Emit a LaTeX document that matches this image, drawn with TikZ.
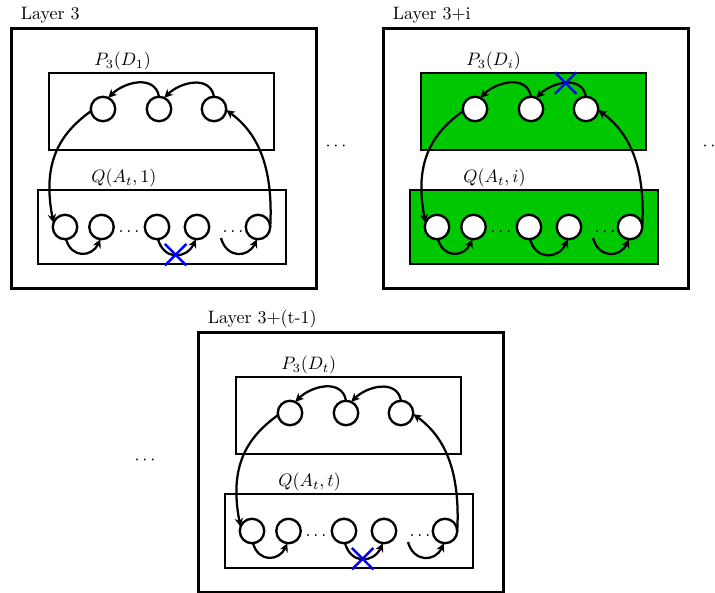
\documentclass[tikz,border=0pt]{standalone}
\usetikzlibrary{arrows.meta,shapes.misc}
\definecolor{boxgreen}{RGB}{0,200,0}
\tikzset{
  x=0.5556pt, y=0.5556pt,
  layerbox/.style={draw, line width=1.6pt},
  groupbox/.style={draw, line width=1.3pt},
  vtx/.style={circle, draw, fill=white, line width=1.3pt, minimum size=13.6pt, inner sep=0pt, outer sep=0pt},
  lbl/.style={anchor=west, inner sep=0pt},
  arc/.style={line width=1.25pt, -{Stealth[length=4.8pt,width=4.6pt]}},
  dotsnode/.style={anchor=base, inner sep=0pt},
  crossmk/.style={cross out, draw=blue, line width=1.3pt, minimum size=12pt, inner sep=0pt, outer sep=0pt}
}
\newcommand\mypanel[7]{%
\begin{scope}[shift={(#2,-#3)}]
  \node[layerbox, minimum width=305*0.5556pt, minimum height=260*0.5556pt, inner sep=0pt, anchor=north west] (#1box) at (10,-27) {};
  \node[lbl] (#1lay) at (20.5,-15) {#5};
  \node[groupbox, fill=#4, minimum width=225*0.5556pt, minimum height=77*0.5556pt, inner sep=0pt, anchor=north west] (#1pbox) at (48,-72) {};
  \node[lbl] (#1plab) at (94,-61) {#6};
  \node[groupbox, fill=#4, minimum width=248*0.5556pt, minimum height=74*0.5556pt, inner sep=0pt, anchor=north west] (#1qbox) at (37,-189) {};
  \node[lbl] (#1qlab) at (91,-178) {#7};
  \node[vtx] (#1p1) at (103,-109) {};
  \node[vtx] (#1p2) at (159,-109) {};
  \node[vtx] (#1p3) at (214,-109) {};
  \node[vtx] (#1q1) at (65,-227) {};
  \node[vtx] (#1q2) at (101.5,-227) {};
  \node[vtx] (#1q3) at (157,-227) {};
  \node[vtx] (#1q4) at (197,-227) {};
  \node[vtx] (#1q5) at (258,-227) {};
  \node[dotsnode] (#1d1) at (129,-232) {$\ldots$};
  \node[dotsnode] (#1d2) at (233,-232) {$\ldots$};
  \coordinate (#1qs) at (221,-238);
  \draw[arc] (#1p2.north) to[out=100,in=45,looseness=1.15] coordinate[pos=0.5] (#1m21) (#1p1.65);
  \draw[arc] (#1p3.north) to[out=100,in=45,looseness=1.15] coordinate[pos=0.5] (#1m32) (#1p2.65);
  \draw[arc] (#1p1.190) to[out=216,in=101,out distance=20.6pt,in distance=35pt] (#1q1.160);
  \draw[arc] (#1q5.east) to[out=87,in=-36,out distance=35pt,in distance=20.6pt] (#1p3.-5);
  \draw[arc] (#1q1.-85) to[out=-75,in=-115,looseness=1.5] (#1q2.-95);
  \draw[arc] (#1q3.-85) to[out=-75,in=-115,looseness=1.5] coordinate[pos=0.5] (#1m34) (#1q4.-95);
  \draw[arc] (#1qs) to[out=-75,in=-115,looseness=1.5] (#1q5.-95);
\end{scope}}
\begin{document}
\begin{tikzpicture}
  \useasboundingbox (0,0) rectangle (715,-593);
  \mypanel{A}{0}{0}{white}{Layer 3}{$P_3(D_1)$}{$Q(A_t,1)$}
  \mypanel{B}{372}{0}{boxgreen}{Layer 3+i}{$P_3(D_i)$}{$Q(A_t,i)$}
  \mypanel{C}{187}{304}{white}{Layer 3+(t-1)}{$P_3(D_t)$}{$Q(A_t,t)$}
  \node[crossmk] (xA) at (Am34) {};
  \node[crossmk] (xB) at (Bm32) {};
  \node[crossmk] (xC) at (Cm34) {};
  \node (dots1) at (336,-147) {$\cdots$};
  \node (dots2) at (713,-147) {$\cdots$};
  \node (dots3) at (145,-460) {$\cdots$};
\end{tikzpicture}
\end{document}
